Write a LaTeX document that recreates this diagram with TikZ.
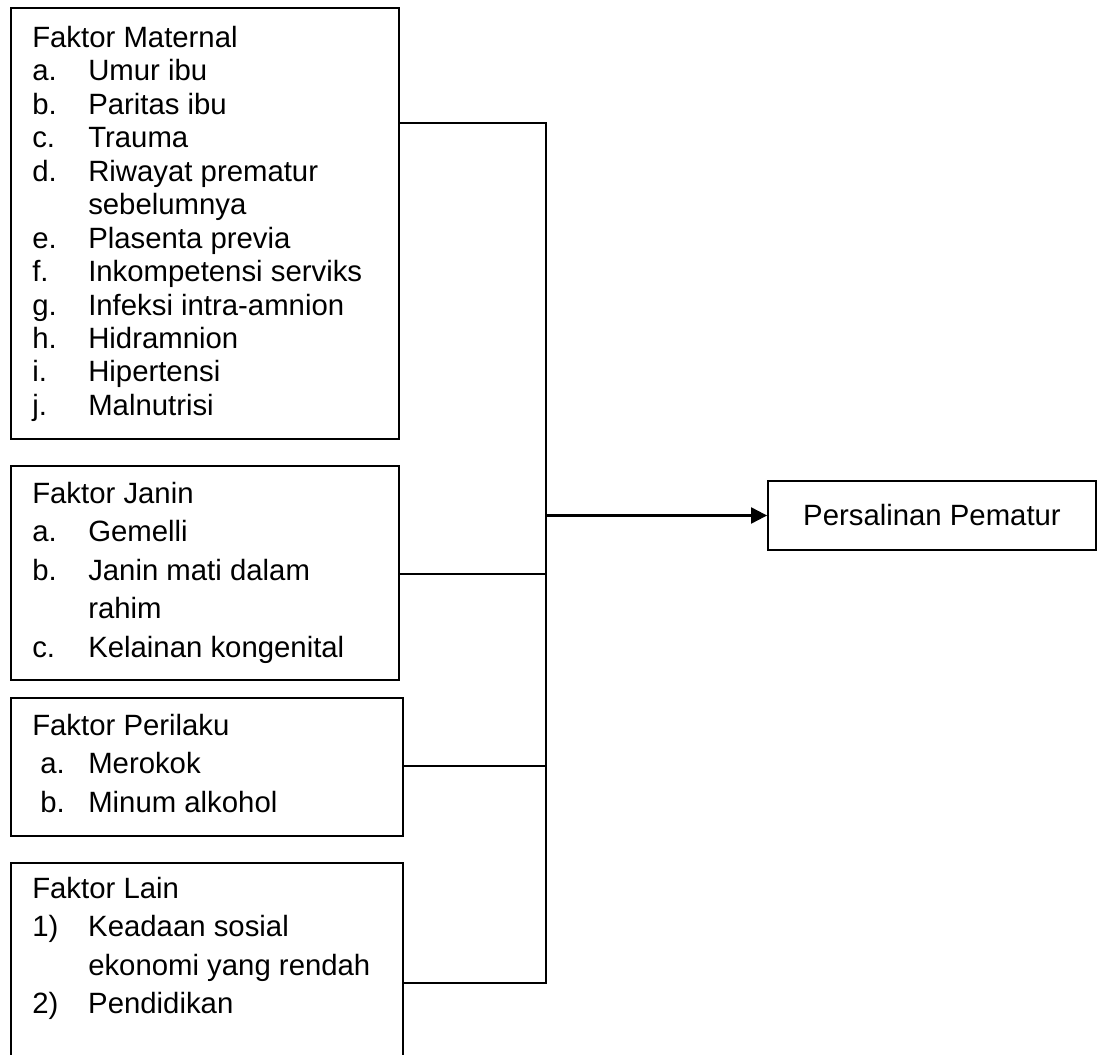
\documentclass[tikz,border=0pt]{standalone}
\usepackage{fontspec}
\setmainfont{Liberation Sans}
\usetikzlibrary{arrows.meta}

\tikzset{
  kotak/.style={draw, line width=1.4pt, rectangle, anchor=north west, inner sep=0pt},
  isi/.style={anchor=north west, inner sep=0pt, align=left},
  garis/.style={line width=1.3pt},
}

\begin{document}
\begin{tikzpicture}[x=0.75pt, y=-0.75pt]
		\useasboundingbox (0,0) rectangle (1097,1055);
		%
		% kotak faktor
		\node[kotak, minimum width=291pt, minimum height=323.25pt] (maternal) at (10,7) {};
		\node[kotak, minimum width=291pt, minimum height=160.5pt] (janin) at (10,465) {};
		\node[kotak, minimum width=294pt, minimum height=103.5pt] (perilaku) at (10,697) {};
		\node[kotak, minimum width=294pt, minimum height=178.5pt] (lain) at (10,862) {};
		%
		% isi kotak
		\node[isi] (tmaternal) at (32,23.6) {\fontsize{22}{25.1}\selectfont
			\begin{tabular}{@{}p{42pt}@{}l@{}}
			\multicolumn{2}{@{}l@{}}{Faktor Maternal}\\
			a. & Umur ibu\\
			b. & Paritas ibu\\
			c. & Trauma\\
			d. & Riwayat prematur\\
			   & sebelumnya\\
			e. & Plasenta previa\\
			f. & Inkompetensi serviks\\
			g. & Infeksi intra-amnion\\
			h. & Hidramnion\\
			i. & Hipertensi\\
			j. & Malnutrisi
			\end{tabular}};
		\node[isi] (tjanin) at (32,476) {\fontsize{22}{28.9}\selectfont
			\begin{tabular}{@{}p{42pt}@{}l@{}}
			\multicolumn{2}{@{}l@{}}{Faktor Janin}\\
			a. & Gemelli\\
			b. & Janin mati dalam\\
			   & rahim\\
			c. & Kelainan kongenital
			\end{tabular}};
		\node[isi] (tperilaku) at (32,708) {\fontsize{22}{28.9}\selectfont
			\begin{tabular}{@{}p{42pt}@{}l@{}}
			\multicolumn{2}{@{}l@{}}{Faktor Perilaku}\\
			\hspace*{6pt}a. & Merokok\\
			\hspace*{6pt}b. & Minum alkohol
			\end{tabular}};
		\node[isi] (tlain) at (32,871) {\fontsize{22}{28.9}\selectfont
			\begin{tabular}{@{}p{42pt}@{}l@{}}
			\multicolumn{2}{@{}l@{}}{Faktor Lain}\\
			1) & Keadaan sosial\\
			   & ekonomi yang rendah\\
			2) & Pendidikan
			\end{tabular}};
		%
		% hasil
		\node[draw, line width=1.4pt, minimum width=246pt, minimum height=51.75pt,
			font=\fontsize{22}{26}\selectfont] (hasil) at (932,515.5) {Persalinan Pematur};
		%
		% garis penghubung
		\coordinate (j1) at (546,123);
		\coordinate (j2) at (546,574);
		\coordinate (j3) at (546,766);
		\coordinate (j4) at (546,983);
		\coordinate (jm) at (546,515.5);
		\draw[garis] (j1 -| maternal.east) -- (j1) -- (j4) -- (j4 -| lain.east);
		\draw[garis] (j2 -| janin.east) -- (j2);
		\draw[garis] (j3 -| perilaku.east) -- (j3);
		\draw[garis, line width=1.7pt, -{Triangle[length=12pt, width=12pt]}] (jm) -- (hasil.west);
	\end{tikzpicture}
\end{document}
